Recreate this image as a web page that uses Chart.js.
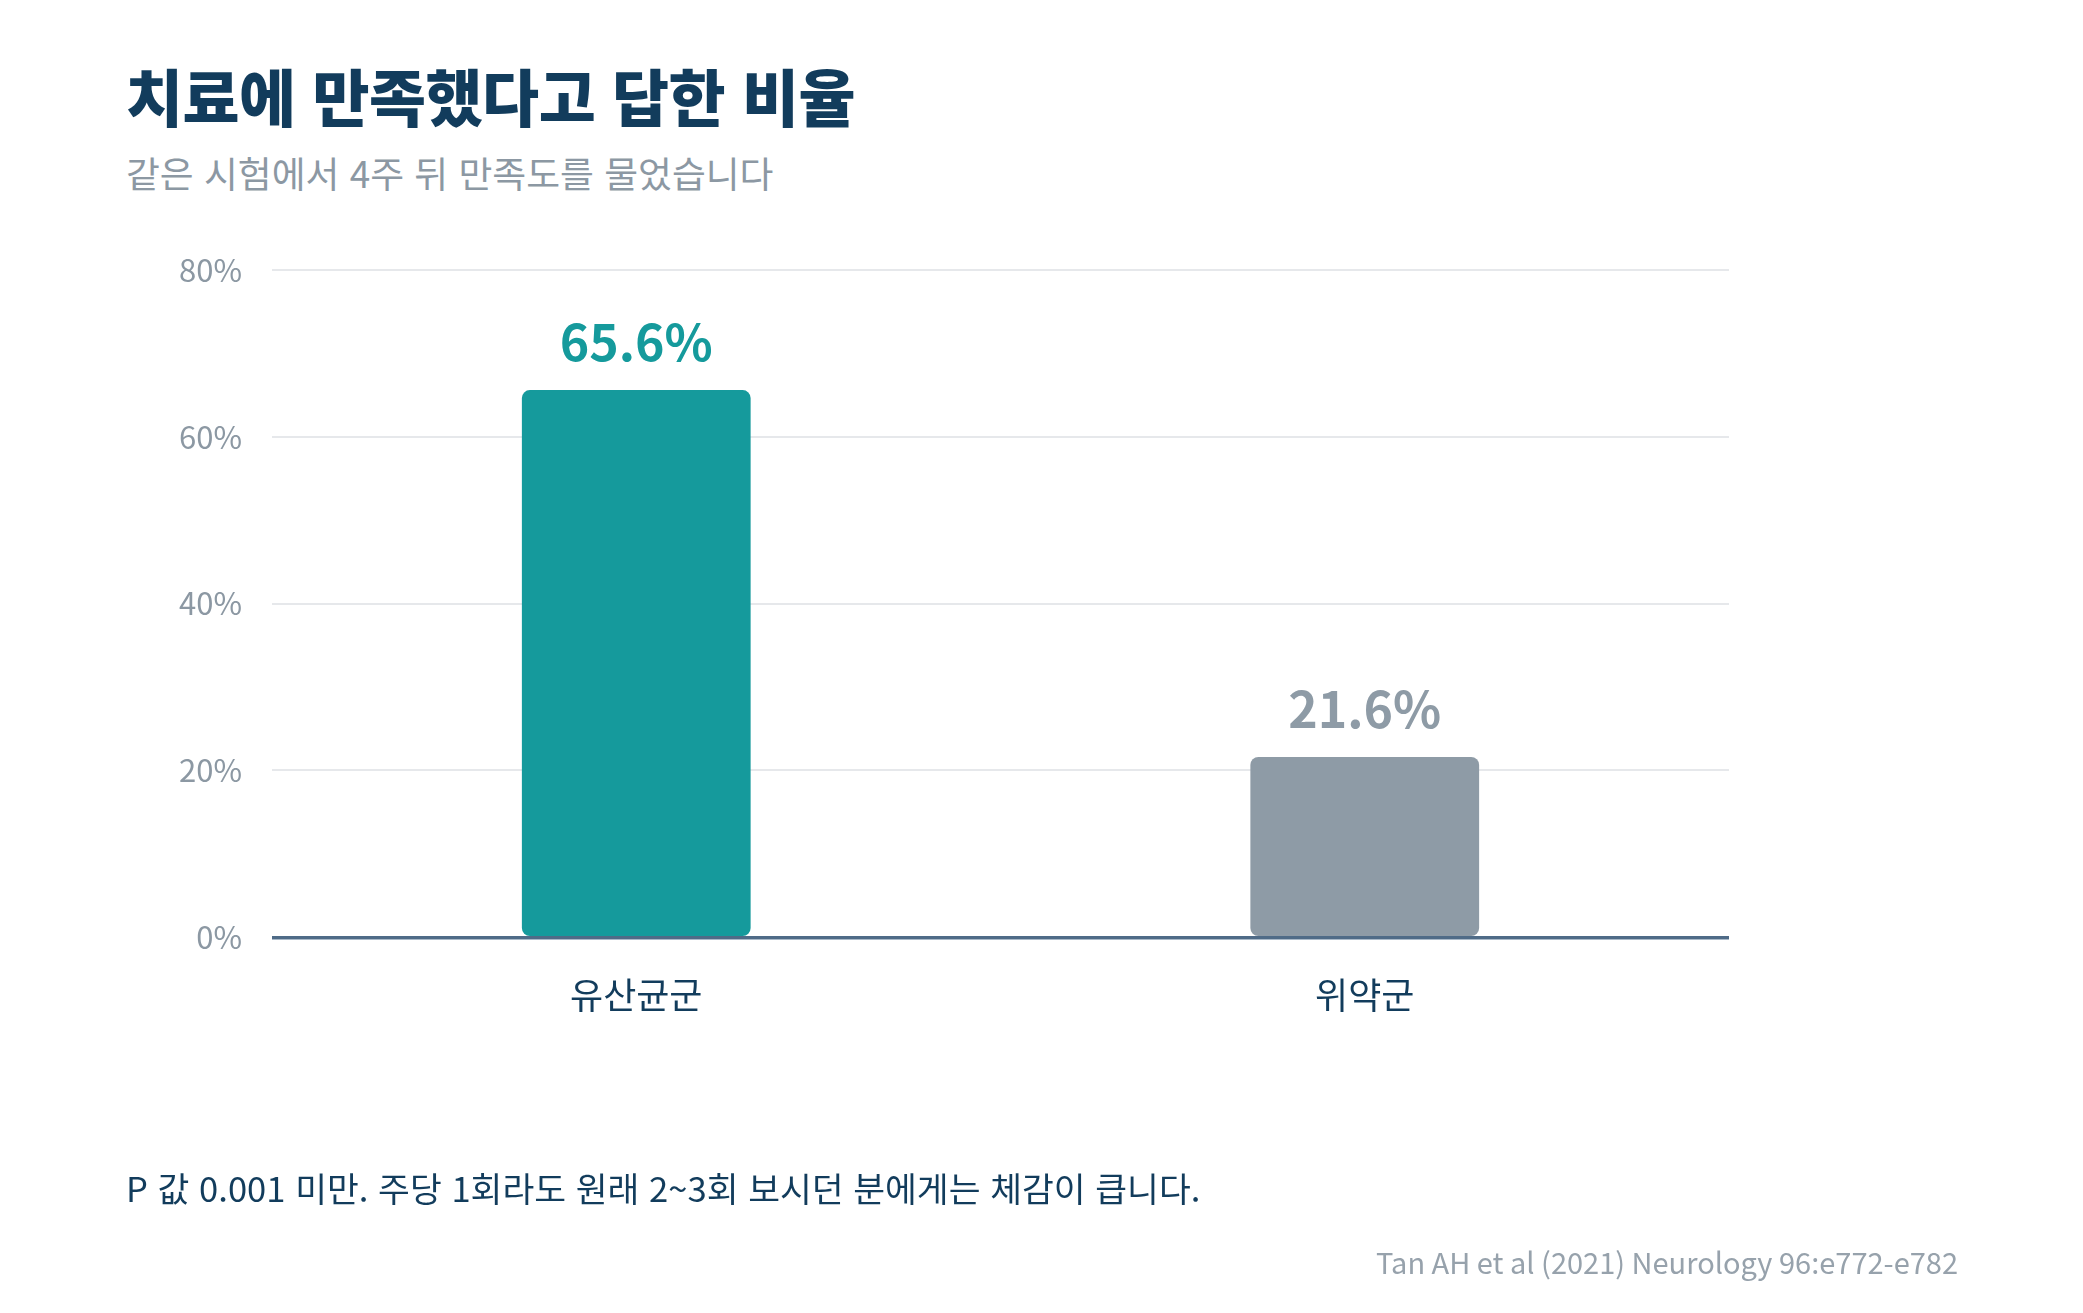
<!DOCTYPE html>
<html lang="ko">
<head>
<meta charset="utf-8">
<title>치료에 만족했다고 답한 비율</title>
<script src="https://cdn.jsdelivr.net/npm/chart.js@4.4.1/dist/chart.umd.min.js"></script>
<style>
    html, body { margin: 0; padding: 0; background: #ffffff; }
    body { width: 2083px; height: 1313px; position: relative; overflow: hidden;
           font-family: "Noto Sans CJK KR", "Noto Sans", sans-serif; }
    .title { position: absolute; left: 126px; top: 50px; margin: 0;
             font-size: 62px; font-weight: 900; color: #123c5c; letter-spacing: -0.5px; }
    .subtitle { position: absolute; left: 126px; top: 145px; margin: 0;
                font-size: 36.8px; font-weight: 400; color: #8c98a3; }
    .note { position: absolute; left: 126px; top: 1162px; margin: 0;
            font-size: 34.6px; color: #123c5c; }
    .source { position: absolute; right: 125px; top: 1240px; margin: 0;
              font-size: 29px; color: #97a2ac; }
    #chartWrap { position: absolute; left: 0; top: 0; width: 2083px; height: 1313px; }
</style>
</head>
<body>
<h1 class="title">치료에 만족했다고 답한 비율</h1>
<p class="subtitle">같은 시험에서 4주 뒤 만족도를 물었습니다</p>
<div id="chartWrap"><canvas id="satisfactionChart"></canvas></div>
<p class="note">P 값 0.001 미만. 주당 1회라도 원래 2~3회 보시던 분에게는 체감이 큽니다.</p>
<p class="source" lang="en">Tan AH et al (2021) Neurology 96:e772-e782</p>

<script>
// data
const groups = ['유산균군', '위약군'];
const satisfied = [65.6, 21.6];
const barColors = ['#159a9c', '#8e9ba6'];
const yTicks = [0, 20, 40, 60, 80];

const FONT = '"Noto Sans CJK KR", "Noto Sans", sans-serif';

// value labels above each bar
const valueLabels = {
    id: 'valueLabels',
    afterDatasetsDraw(chart) {
        const ctx = chart.ctx;
        const meta = chart.getDatasetMeta(0);
        ctx.save();
        ctx.font = '700 50px ' + FONT;
        ctx.textAlign = 'center';
        ctx.textBaseline = 'alphabetic';
        meta.data.forEach((bar, i) => {
            ctx.fillStyle = barColors[i];
            ctx.fillText(satisfied[i].toFixed(1) + '%', bar.x, bar.y - 29);
        });
        ctx.restore();
    }
};

// heavy baseline at 0%
const baseLine = {
    id: 'baseLine',
    afterDatasetsDraw(chart) {
        const { ctx, chartArea } = chart;
        const y = chart.scales.y.getPixelForValue(0);
        ctx.save();
        ctx.fillStyle = '#4f6b87';
        ctx.fillRect(chartArea.left, y - 1, chartArea.right - chartArea.left, 3);
        ctx.fillStyle = '#a9b9c8';
        ctx.fillRect(chartArea.left, y + 2, chartArea.right - chartArea.left, 1);
        ctx.restore();
    }
};

new Chart(document.getElementById('satisfactionChart'), {
    type: 'bar',
    data: {
        labels: groups,
        datasets: [{
            data: satisfied,
            backgroundColor: barColors,
            borderRadius: 8,
            borderSkipped: false,
            barPercentage: 0.314,
            categoryPercentage: 1
        }]
    },
    options: {
        responsive: true,
        maintainAspectRatio: false,
        animation: false,
        layout: { padding: { left: 0, right: 354, top: 270, bottom: 276 } },
        plugins: {
            legend: { display: false },
            tooltip: { enabled: false }
        },
        scales: {
            y: {
                min: 0,
                max: 80,
                afterFit: (scale) => { scale.width = 272; },
                afterBuildTicks: (scale) => {
                    scale.ticks = yTicks.map(v => ({ value: v }));
                },
                border: { display: false },
                grid: { color: '#e6e8eb', lineWidth: 2, drawTicks: false },
                ticks: {
                    padding: 30,
                    color: '#8c98a3',
                    font: { family: FONT, size: 31 },
                    callback: (value) => value + '%'
                }
            },
            x: {
                afterFit: (scale) => { scale.height = 100; },
                border: { display: false },
                grid: { display: false, drawTicks: false },
                ticks: {
                    padding: 37,
                    color: '#123c5c',
                    font: { family: FONT, size: 36 }
                }
            }
        }
    },
    plugins: [valueLabels, baseLine]
});
</script>
</body>
</html>
